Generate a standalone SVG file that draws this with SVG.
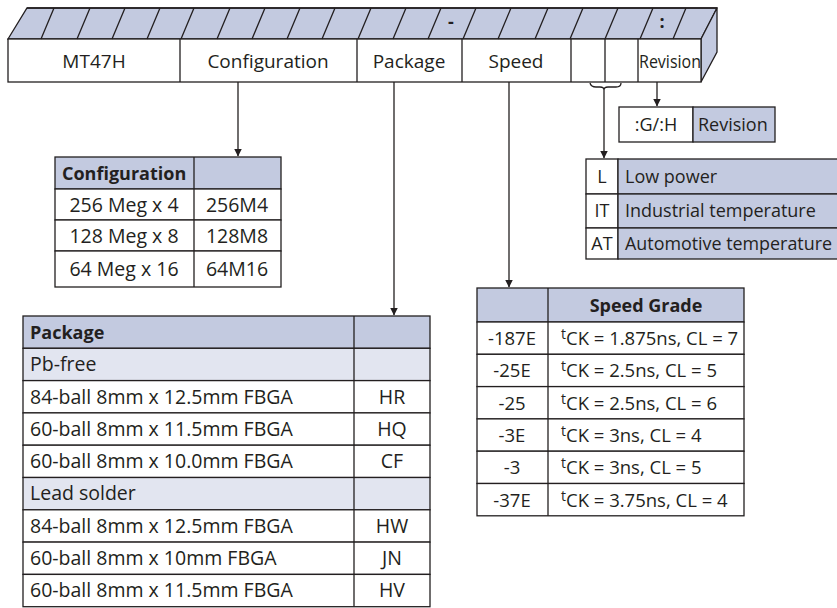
<svg xmlns="http://www.w3.org/2000/svg" width="837" height="608" viewBox="0 0 837 608">
<defs>
<style>
.s{stroke:#231f20;stroke-width:1.3;}
.w{fill:#fff;}
.b{fill:#c3cae0;}
.lb{fill:#e2e5f0;}
text{font-family:"Open Sans","Noto Sans","Liberation Sans",sans-serif;font-size:18px;fill:#231f20;}
.big{font-size:19px;}
.t19{font-size:19.5px;}
.t185{font-size:18.5px;}
.bold{font-weight:bold;}
.m{text-anchor:middle;}
.ln{stroke:#231f20;stroke-width:1.3;fill:none;}
</style>
<marker id="ah" viewBox="0 0 8 10" refX="7.5" refY="5" markerWidth="8" markerHeight="10" markerUnits="userSpaceOnUse" orient="auto">
<path d="M0,1 L8,5 L0,9 Z" fill="#231f20"/>
</marker>
</defs>
<rect width="837" height="608" fill="#fff"/>

<g id="part-number">
<polygon class="s b" points="8,39 27,8 717,8 701,39"/>
<polygon class="s b" points="701,39 717,8 717,52 701,82"/>
<rect class="s w" x="8" y="39" width="693" height="43"/>
<g class="ln">
<path d="M41,39L54,8M77,39L90,8M112,39L125,8M147,39L160,8M181,39L194,8M217,39L230,8M252,39L265,8M287,39L300,8M322,39L335,8M358,39L371,8M393,39L406,8M428,39L441,8M463,39L476,8M498,39L511,8M535,39L548,8M570,39L583,8M605,39L618,8M640,39L653,8M673,39L686,8"/>
<path d="M180,39V82M357,39V82M462,39V82M571,39V82M605,39V82M638,39V82"/>
</g>
<path d="M27,8H717" class="ln" stroke-width="2"/>
<text x="451" y="28" class="m bold">-</text>
<text x="662" y="28" class="m bold">:</text>
<text x="94" y="68" class="m big">MT47H</text>
<text x="268" y="68" class="m big">Configuration</text>
<text x="409" y="68" class="m big">Package</text>
<text x="516" y="68" class="m big">Speed</text>
<text x="670" y="68" class="m" textLength="62" lengthAdjust="spacingAndGlyphs">Revision</text>
</g>

<g id="connectors">
<path class="ln" d="M238,82V156" marker-end="url(#ah)"/>
<path class="ln" d="M394,82V315" marker-end="url(#ah)"/>
<path class="ln" d="M509,82V287" marker-end="url(#ah)"/>
<path class="ln" d="M657,82V106" marker-end="url(#ah)"/>
<path class="ln" d="M590,83Q591,87 596,87H600Q604,87 604,90Q604,87 608,87H616Q621,87 621,83"/>
<path class="ln" d="M604,90V158" marker-end="url(#ah)"/>
</g>

<g id="config-table">
<rect class="s b" x="55" y="157" width="226" height="32"/>
<rect class="s w" x="55" y="189" width="226" height="31"/>
<rect class="s w" x="55" y="220" width="226" height="31"/>
<rect class="s w" x="55" y="251" width="226" height="36"/>
<path class="ln" d="M194,157V287"/>
<text x="62" y="180" class="bold">Configuration</text>
<text x="124" y="212" class="m t19">256 Meg x 4</text>
<text x="237" y="212" class="m t19">256M4</text>
<text x="124" y="243" class="m t19">128 Meg x 8</text>
<text x="237" y="243" class="m t19">128M8</text>
<text x="124" y="276" class="m t19">64 Meg x 16</text>
<text x="237" y="276" class="m t19">64M16</text>
</g>

<g id="package-table">
<rect class="s b" x="23" y="316" width="407" height="32.3"/>
<rect class="s lb" x="23" y="348.3" width="407" height="32.3"/>
<rect class="s w" x="23" y="380.6" width="407" height="32.3"/>
<rect class="s w" x="23" y="412.9" width="407" height="32.3"/>
<rect class="s w" x="23" y="445.2" width="407" height="32.3"/>
<rect class="s lb" x="23" y="477.5" width="407" height="32.3"/>
<rect class="s w" x="23" y="509.8" width="407" height="32.3"/>
<rect class="s w" x="23" y="542.1" width="407" height="32.3"/>
<rect class="s w" x="23" y="574.4" width="407" height="32.3"/>
<path class="ln" d="M354,316V606.7"/>
<text x="30" y="339" class="bold" font-size="19">Package</text>
<text x="30" y="371" class="t19">Pb-free</text>
<text x="30" y="404" class="t19">84-ball 8mm x 12.5mm FBGA</text>
<text x="392" y="404" class="m t19">HR</text>
<text x="30" y="436" class="t19">60-ball 8mm x 11.5mm FBGA</text>
<text x="392" y="436" class="m t19">HQ</text>
<text x="30" y="468" class="t19">60-ball 8mm x 10.0mm FBGA</text>
<text x="392" y="468" class="m t19">CF</text>
<text x="30" y="500" class="t19">Lead solder</text>
<text x="30" y="533" class="t19">84-ball 8mm x 12.5mm FBGA</text>
<text x="392" y="533" class="m t19">HW</text>
<text x="30" y="565" class="t19">60-ball 8mm x 10mm FBGA</text>
<text x="392" y="565" class="m t19">JN</text>
<text x="30" y="597" class="t19">60-ball 8mm x 11.5mm FBGA</text>
<text x="392" y="597" class="m t19">HV</text>
</g>

<g id="speed-table">
<rect class="s b" x="477" y="288" width="267" height="34"/>
<rect class="s w" x="477" y="322" width="267" height="32.3"/>
<rect class="s w" x="477" y="354.3" width="267" height="32.3"/>
<rect class="s w" x="477" y="386.6" width="267" height="32.3"/>
<rect class="s w" x="477" y="418.9" width="267" height="32.3"/>
<rect class="s w" x="477" y="451.2" width="267" height="32.3"/>
<rect class="s w" x="477" y="483.5" width="267" height="32.3"/>
<path class="ln" d="M548,288V515.8"/>
<text x="646" y="312" class="m bold" font-size="18.5">Speed Grade</text>
<text x="512" y="345" class="m t185">-187E</text>
<text x="512" y="377" class="m t185">-25E</text>
<text x="512" y="410" class="m t185">-25</text>
<text x="512" y="442" class="m t185">-3E</text>
<text x="512" y="474" class="m t185">-3</text>
<text x="512" y="507" class="m t185">-37E</text>
<text x="561" y="345" class="t185"><tspan font-size="14" dy="-6">t</tspan><tspan dy="6">CK = 1.875ns, CL = 7</tspan></text>
<text x="561" y="377" class="t185"><tspan font-size="14" dy="-6">t</tspan><tspan dy="6">CK = 2.5ns, CL = 5</tspan></text>
<text x="561" y="410" class="t185"><tspan font-size="14" dy="-6">t</tspan><tspan dy="6">CK = 2.5ns, CL = 6</tspan></text>
<text x="561" y="442" class="t185"><tspan font-size="14" dy="-6">t</tspan><tspan dy="6">CK = 3ns, CL = 4</tspan></text>
<text x="561" y="474" class="t185"><tspan font-size="14" dy="-6">t</tspan><tspan dy="6">CK = 3ns, CL = 5</tspan></text>
<text x="561" y="507" class="t185"><tspan font-size="14" dy="-6">t</tspan><tspan dy="6">CK = 3.75ns, CL = 4</tspan></text>
</g>

<g id="revision-box">
<rect class="s w" x="619" y="107" width="74" height="35"/>
<rect class="s b" x="693" y="107" width="82" height="35"/>
<text x="656" y="131" class="m">:G/:H</text>
<text x="698" y="131">Revision</text>
</g>

<g id="option-table">
<rect class="s w" x="586" y="159" width="32" height="35"/>
<rect class="s b" x="618" y="159" width="224" height="35"/>
<rect class="s w" x="586" y="194" width="32" height="34"/>
<rect class="s b" x="618" y="194" width="224" height="34"/>
<rect class="s w" x="586" y="228" width="32" height="31"/>
<rect class="s b" x="618" y="228" width="224" height="31"/>
<text x="602" y="183" class="m">L</text>
<text x="625" y="183">Low power</text>
<text x="602" y="217" class="m">IT</text>
<text x="625" y="217">Industrial temperature</text>
<text x="602" y="250" class="m">AT</text>
<text x="625" y="250" textLength="207" lengthAdjust="spacingAndGlyphs">Automotive temperature</text>
</g>
</svg>
